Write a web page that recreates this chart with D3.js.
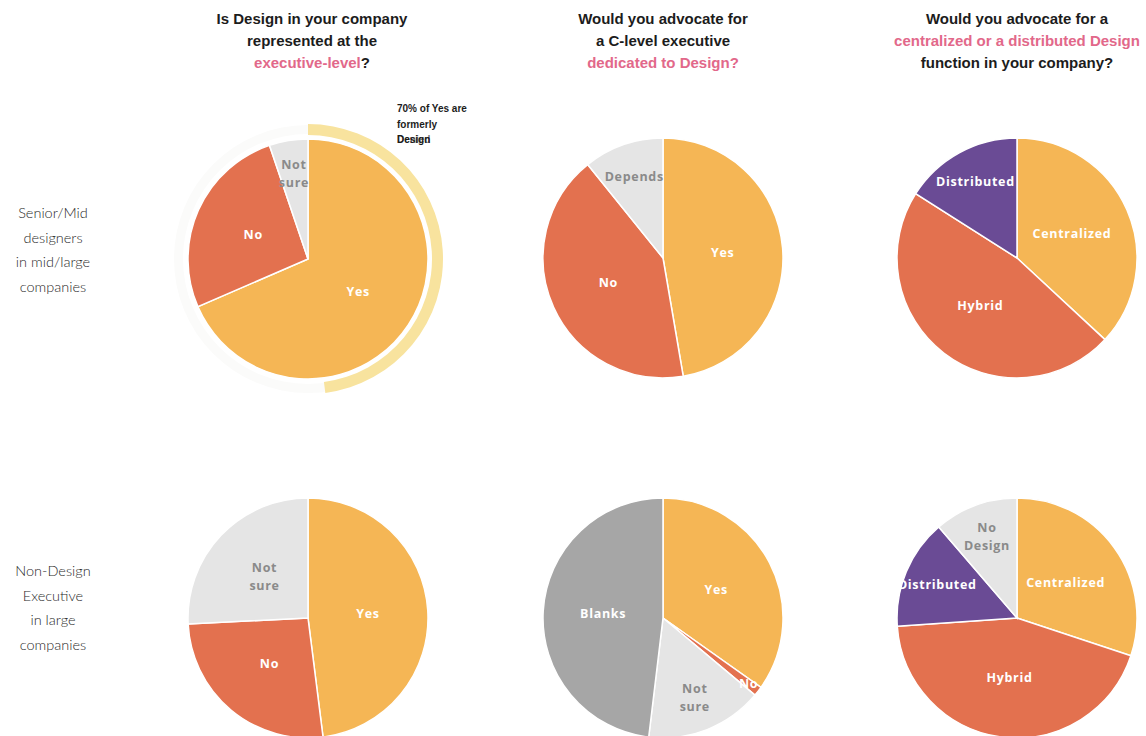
<!DOCTYPE html>
<html><head><meta charset="utf-8">
<script src="https://cdn.jsdelivr.net/npm/d3@7"></script>
<style>
body{margin:0;background:#fff;}
svg{display:block;}
</style></head>
<body><svg id="chart" width="1146" height="736"></svg>
<script>
// ---------- data ----------
const columnTitles = [
  [["Is Design in your company", false], ["represented at the", false], ["executive-level", true, "?"]],
  [["Would you advocate for", false], ["a C-level executive", false], ["dedicated to Design?", true]],
  [["Would you advocate for a", false], ["centralized or a distributed Design", true], ["function in your company?", false]]
];
const rowLabels = [
  ["Senior/Mid", "designers", "in mid/large", "companies"],
  ["Non-Design", "Executive", "in large", "companies"]
];
// row 1
const q1Senior = [["Yes", 68.5], ["No", 26.3], ["Not sure", 5.2]];
const q2Senior = [["Yes", 47.3], ["No", 41.9], ["Depends", 10.8]];
const q3Senior = [["Centralized", 36.9], ["Hybrid", 47.1], ["Distributed", 16.0]];
// row 2
const q1Exec = [["Yes", 48.0], ["No", 26.2], ["Not sure", 25.8]];
const q2Exec = [["Yes", 34.8], ["No", 1.3], ["Not sure", 15.8], ["Blanks", 48.1]];
const q3Exec = [["Centralized", 30.1], ["Hybrid", 43.8], ["Distributed", 14.8], ["No Design", 11.3]];
const formerlyDesignShare = 0.70; // 70% of Yes are formerly Design
const annotationLines = ["70% of Yes are", "formerly", "Design"];

const colors = {
  "Yes": "#f5b655", "Centralized": "#f5b655",
  "No": "#e3714f", "Hybrid": "#e3714f",
  "Not sure": "#e5e5e5", "Depends": "#e5e5e5", "No Design": "#e5e5e5",
  "Blanks": "#a6a6a6", "Distributed": "#6a4b95"
};
const darkText = new Set(["Not sure", "Depends", "No Design"]);

// ---------- layout ----------
const svg = d3.select("#chart");
const colX = [308, 663, 1017];
const rowY = [258, 618];
const R = 120;
const grid = [[q1Senior, q2Senior, q3Senior], [q1Exec, q2Exec, q3Exec]];

const pie = d3.pie().sort(null).value(d => d[1]);
const arc = d3.arc().innerRadius(0).outerRadius(R);

// titles
columnTitles.forEach((lines, ci) => {
  const t = svg.append("g").attr("transform", `translate(${colX[ci] + (ci === 0 ? 4 : 0)},0)`);
  lines.forEach((ln, li) => {
    const txt = t.append("text")
      .attr("x", 0).attr("y", 24 + li * 22)
      .attr("text-anchor", "middle")
      .style("font-family", "'Liberation Sans', Arial, sans-serif")
      .style("font-weight", "bold").style("font-size", "15px");
    txt.append("tspan").attr("fill", ln[1] ? "#e2688a" : "#1c1c1c").text(ln[0]);
    if (ln[2]) txt.append("tspan").attr("fill", "#1c1c1c").text(ln[2]);
  });
});

// row labels
rowLabels.forEach((lines, ri) => {
  const cy = rowY[ri] - (ri === 0 ? 8 : 10);
  lines.forEach((l, li) => {
    svg.append("text")
      .attr("x", 53).attr("y", cy - 37 + li * 24.7 + 5)
      .attr("text-anchor", "middle")
      .style("font-family", "Lato, 'Open Sans', sans-serif")
      .style("font-weight", 300).style("font-size", "14.5px")
      .attr("fill", "#2a2a2a")
      .text(l);
  });
});

// special decoration for first pie: faint ring + formerly-design arc
{
  const g = svg.append("g").attr("transform", `translate(${colX[0]},${rowY[0]+1})`);
  g.append("path")
    .attr("d", d3.arc().innerRadius(R + 5).outerRadius(R + 14).startAngle(0).endAngle(2 * Math.PI)())
    .attr("fill", "#fbfbfa");
  const yesArc = pie(q1Senior)[0];
  g.append("path")
    .attr("d", d3.arc().innerRadius(R + 4).outerRadius(R + 15)
      .startAngle(0).endAngle(yesArc.endAngle * formerlyDesignShare)())
    .attr("fill", "#f8e39e");
}

// pies
grid.forEach((row, ri) => {
  row.forEach((data, ci) => {
    const g = svg.append("g").attr("transform", `translate(${colX[ci]},${rowY[ri] + (ci === 0 && ri === 0 ? 1 : 0)})`);
    const arcs = pie(data);
    g.selectAll("path.slice").data(arcs).enter().append("path")
      .attr("class", "slice")
      .attr("d", arc)
      .attr("fill", d => colors[d.data[0]])
      .attr("stroke", "#fff").attr("stroke-width", 1.5);
    arcs.forEach(d => {
      const frac = (d.endAngle - d.startAngle) / (2 * Math.PI);
      const lr = frac < 0.05 ? R * 0.9 : (frac < 0.2 ? R * 0.72 : R * 0.5);
      const c = d3.arc().innerRadius(lr).outerRadius(lr).centroid(d);
      const words = d.data[0] === "Not sure" ? ["Not", "sure"] : d.data[0] === "No Design" ? ["No", "Design"] : [d.data[0]];
      const t = g.append("text")
        .attr("text-anchor", "middle")
        .style("font-family", "'Open Sans', Lato, sans-serif")
        .style("font-weight", "bold").style("font-size", "12.5px")
        .style("letter-spacing", "0.7px")
        .attr("fill", darkText.has(d.data[0]) ? "#8a8a8a" : "#ffffff");
      words.forEach((w, wi) => {
        t.append("tspan").attr("x", c[0])
          .attr("y", c[1] + 4 + (wi - (words.length - 1) / 2) * 18)
          .text(w);
      });
    });
  });
});

// annotation
annotationLines.forEach((l, i) => {
  svg.append("text")
    .attr("x", 397).attr("y", 112 + i * 15.5)
    .style("font-family", "'Liberation Sans', Arial, sans-serif")
    .style("font-weight", "bold").style("font-size", "10px")
    .attr("fill", "#1c1c1c").text(l);
});
svg.append("text")
  .attr("x", 397).attr("y", 112 + 2 * 15.5)
  .style("font-family", "'Liberation Sans', Arial, sans-serif")
  .style("font-weight", "bold").style("font-size", "10px")
  .attr("fill", "#1c1c1c").attr("opacity", 0.6).text("Denied");
</script>
</body></html>
